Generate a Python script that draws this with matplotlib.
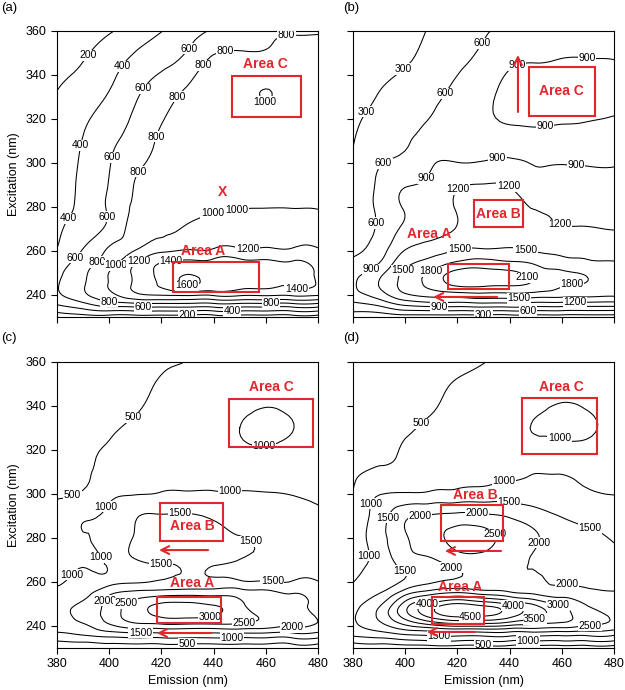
import numpy as np
import matplotlib
matplotlib.use('Agg')
import matplotlib.pyplot as plt
import matplotlib.tri as mtri
from matplotlib.patches import Rectangle

plt.rcParams['font.family'] = ['Liberation Sans', 'DejaVu Sans']

# grid the EEM intensities were read on (nm)
emission = [380, 390, 400, 410, 420, 430, 440, 450, 460, 470, 480]
excitation = [230, 233, 236, 240, 245, 250, 255, 260, 270, 280, 290, 300, 315, 330, 345, 360]

levels_a = [200, 400, 600, 800, 1000, 1200, 1400, 1600]
levels_b = [300, 600, 900, 1200, 1500, 1800, 2100]
levels_c = [500, 1000, 1500, 2000, 2500, 3000]
levels_d = [500, 1000, 1500, 2000, 2500, 3000, 3500, 4000, 4500]

# one row per excitation value, one column per emission value
eem_a = [
    [80, 110, 110, 110, 110, 110, 110, 110, 110, 110, 110],
    [250, 350, 420, 430, 430, 430, 430, 430, 430, 430, 430],
    [420, 560, 720, 770, 780, 780, 780, 780, 780, 780, 780],
    [560, 760, 950, 1150, 1210, 1230, 1230, 1230, 1230, 1230, 1220],
    [580, 780, 1010, 1230, 1430, 1620, 1560, 1470, 1440, 1420, 1390],
    [540, 760, 1005, 1240, 1450, 1580, 1520, 1470, 1450, 1430, 1380],
    [470, 690, 900, 1180, 1390, 1440, 1450, 1440, 1430, 1410, 1350],
    [410, 615, 830, 1010, 1170, 1220, 1240, 1250, 1250, 1240, 1230],
    [370, 500, 650, 880, 970, 1020, 1080, 1100, 1120, 1110, 1130],
    [330, 450, 630, 830, 880, 930, 960, 980, 990, 990, 980],
    [300, 440, 610, 810, 860, 880, 890, 895, 895, 890, 870],
    [280, 430, 590, 750, 850, 870, 870, 870, 860, 840, 810],
    [240, 390, 530, 660, 810, 850, 860, 860, 860, 840, 820],
    [210, 300, 420, 580, 720, 840, 870, 900, 1010, 880, 830],
    [150, 205, 320, 460, 560, 680, 850, 860, 860, 850, 830],
    [110, 150, 185, 290, 395, 510, 620, 690, 770, 790, 795],
]

eem_b = [
    [100, 100, 150, 150, 150, 150, 150, 150, 150, 150, 150],
    [350, 400, 590, 620, 620, 640, 640, 620, 620, 610, 605],
    [550, 700, 1000, 1100, 1100, 1150, 1150, 1100, 1100, 1090, 1080],
    [800, 1050, 1450, 1600, 1650, 1700, 1700, 1650, 1600, 1580, 1550],
    [860, 1210, 1600, 1900, 2180, 2180, 2150, 2050, 1840, 1790, 1720],
    [800, 1100, 1560, 1850, 2200, 2200, 2170, 1950, 1850, 1760, 1650],
    [640, 880, 1400, 1600, 1820, 1900, 1820, 1750, 1600, 1540, 1510],
    [560, 760, 1220, 1380, 1530, 1560, 1560, 1480, 1450, 1420, 1400],
    [500, 650, 950, 1050, 1220, 1230, 1240, 1280, 1230, 1220, 1190],
    [450, 660, 920, 1000, 1230, 1270, 1260, 1180, 1150, 1120, 1100],
    [390, 650, 880, 940, 1150, 1210, 1180, 1000, 1050, 1040, 1000],
    [330, 580, 680, 880, 905, 920, 940, 890, 890, 880, 880],
    [270, 420, 520, 680, 820, 850, 880, 890, 880, 870, 850],
    [220, 310, 400, 520, 700, 840, 960, 980, 960, 960, 950],
    [180, 250, 290, 400, 550, 700, 870, 905, 920, 920, 910],
    [150, 200, 240, 320, 420, 570, 650, 720, 780, 800, 850],
]

eem_c = [
    [200, 200, 200, 200, 200, 200, 200, 200, 200, 200, 200],
    [480, 550, 650, 700, 700, 700, 700, 700, 700, 700, 700],
    [900, 1020, 1200, 1300, 1300, 1300, 1300, 1300, 1300, 1300, 1300],
    [1100, 1400, 1900, 2250, 2300, 2300, 2300, 2300, 2200, 2050, 1900],
    [1300, 1700, 2200, 2800, 3100, 3150, 3050, 2700, 2400, 2150, 1900],
    [1250, 1600, 2150, 2700, 3050, 3080, 2950, 2600, 2300, 2100, 1800],
    [1080, 1300, 1900, 2150, 2250, 2300, 2300, 2250, 2150, 1980, 1750],
    [950, 1100, 1300, 1450, 1560, 1650, 1620, 1580, 1550, 1530, 1520],
    [800, 960, 1100, 1480, 1580, 1600, 1580, 1490, 1420, 1380, 1350],
    [700, 980, 1150, 1540, 1650, 1650, 1600, 1520, 1380, 1300, 1250],
    [600, 950, 1080, 1450, 1530, 1540, 1450, 1350, 1250, 1150, 1050],
    [470, 560, 900, 980, 1040, 1060, 1050, 1040, 1020, 990, 960],
    [380, 420, 600, 700, 800, 860, 900, 920, 930, 920, 900],
    [300, 360, 450, 560, 680, 800, 890, 1000, 1040, 1005, 920],
    [240, 290, 360, 440, 560, 680, 800, 900, 950, 930, 880],
    [200, 240, 290, 350, 470, 510, 680, 780, 850, 860, 850],
]

eem_d = [
    [200, 200, 200, 200, 200, 200, 200, 200, 200, 200, 200],
    [600, 700, 850, 950, 950, 950, 950, 950, 950, 950, 950],
    [1100, 1250, 1480, 1600, 1650, 1650, 1650, 1650, 1600, 1600, 1550],
    [1400, 1800, 2400, 2800, 3050, 3050, 2900, 2800, 2700, 2480, 2300],
    [1450, 2100, 3300, 4250, 4700, 4600, 4200, 3700, 3200, 2700, 2350],
    [1300, 1900, 3200, 4100, 4550, 4300, 3900, 3400, 2900, 2450, 2200],
    [1150, 1480, 2300, 2800, 3050, 2800, 2600, 2400, 2250, 2150, 2050],
    [990, 1300, 1600, 1950, 2100, 2100, 2100, 2050, 1980, 1850, 1700],
    [700, 1200, 1750, 1950, 2250, 2300, 2150, 1950, 1800, 1700, 1600],
    [650, 1300, 1950, 2300, 2650, 2650, 2300, 2050, 1750, 1600, 1450],
    [580, 1250, 1900, 2050, 2150, 2100, 1950, 1700, 1480, 1350, 1250],
    [510, 980, 1050, 1100, 1150, 1200, 1250, 1250, 1200, 1050, 990],
    [400, 450, 580, 750, 830, 850, 920, 950, 940, 930, 920],
    [320, 400, 450, 580, 700, 830, 950, 1010, 1040, 1020, 950],
    [260, 320, 370, 450, 560, 680, 800, 900, 960, 940, 900],
    [220, 260, 300, 370, 430, 490, 620, 720, 800, 820, 820],
]

# where the contour labels sit in the reference (emission, excitation)
labels_a = [(393, 347.7), (406.8, 342.3), (430.2, 352.3), (444.4, 350), (468, 357.3),
            (436.7, 343.6), (414.5, 332.7), (427, 329.5), (460, 329), (387, 308.6),
            (420.6, 311), (401, 302.7), (411.8, 295.5), (385.4, 274), (398.8, 275.5),
            (439.8, 276.4), (449, 277.7), (453, 264), (388, 256), (395.7, 254.5),
            (403, 253), (412.6, 252.7), (424, 252.7), (430, 245.5), (472, 244.5),
            (430, 231), (447, 233.2), (413, 234.8), (462, 236.3), (400, 238.5)]
labels_b = [(398.8, 343.6), (430, 354), (414.7, 332.3), (388, 321), (444, 341),
            (469.6, 347.7), (454, 311), (435, 304.5), (465.3, 297.7), (392.7, 297.7),
            (406.4, 294.5), (421, 287), (439.2, 288.6), (460.4, 275.5), (389, 272.7),
            (420, 265), (446, 260), (386.5, 252.7), (399, 251.4), (409.5, 251.4),
            (446.7, 248), (463.8, 245), (430, 231), (447, 233), (413, 234.7),
            (465, 236.5), (443.5, 238.7)]
labels_c = [(408.7, 335.5), (385.7, 300), (459, 330), (399, 294), (446.3, 302.3),
            (427, 291.4), (454.6, 279), (396.5, 271), (463, 266.4), (420, 265),
            (388, 261), (397.6, 251.8), (405.4, 251.8), (438.6, 246.4), (451.4, 244),
            (471, 245), (430, 231.4), (447, 234.3), (412, 236.5)]
labels_d = [(405.7, 332.7), (437.5, 307.7), (440, 298), (460, 330), (386.5, 295.8),
            (394, 289), (405.7, 290.5), (427.5, 293), (434.5, 281.8), (451.6, 277.7),
            (470, 281), (387, 272), (400, 265), (417, 265), (462, 261),
            (408.4, 250.4), (425, 245.9), (441, 247), (449.7, 242.5), (458, 246),
            (470.8, 243), (430, 231), (447, 233.4), (413, 235.6)]

RED = '#e3262b'

fig = plt.figure(figsize=(6.25, 6.9), dpi=100)

w, h = 0.4176, 0.4145
boxes = {
    'a': [0.0912, 0.5406, w, h],
    'b': [0.5648, 0.5406, w, h],
    'c': [0.0912, 0.0609, w, h],
    'd': [0.5648, 0.0609, w, h],
}
data = {'a': (eem_a, levels_a, labels_a), 'b': (eem_b, levels_b, labels_b),
        'c': (eem_c, levels_c, labels_c), 'd': (eem_d, levels_d, labels_d)}

EM, EX = np.meshgrid(emission, excitation)
tri = mtri.Triangulation(EM.ravel(), EX.ravel())
refiner = mtri.UniformTriRefiner(tri)


def area_box(ax, x0, y0, x1, y1):
    ax.add_patch(Rectangle((x0, y0), x1 - x0, y1 - y0, fill=False,
                           ec=RED, lw=1.5, zorder=5))


def area_text(ax, x, y, s):
    ax.text(x, y, s, color=RED, fontsize=10, fontweight='bold',
            ha='center', va='center', zorder=6)


def red_arrow(ax, x0, y0, x1, y1):
    ax.annotate('', xy=(x1, y1), xytext=(x0, y0), zorder=6,
                arrowprops=dict(arrowstyle='->', color=RED, lw=1.5,
                                mutation_scale=14, shrinkA=0, shrinkB=0))


axes = {}
for key in ['a', 'b', 'c', 'd']:
    ax = fig.add_axes(boxes[key])
    axes[key] = ax
    z, lev, lab = data[key]
    tri_f, z_f = refiner.refine_field(np.array(z, dtype=float).ravel(), subdiv=3)
    cs = ax.tricontour(tri_f, z_f, levels=lev, colors='black', linewidths=0.75)
    ax.set_xlim(380, 480)
    ax.set_ylim(230, 360)
    texts = ax.clabel(cs, fmt='%d', fontsize=7.5, inline=False, manual=lab)
    for t in texts:
        t.set_rotation(0)
        t.set_bbox(dict(boxstyle='square,pad=0.05', fc='white', ec='none'))
        t.set_zorder(4)
    ax.set_xticks(range(380, 481, 20))
    ax.set_yticks(range(240, 361, 20))
    ax.tick_params(direction='out', length=4, width=0.8, labelsize=9,
                   top=False, right=False)
    for s in ax.spines.values():
        s.set_linewidth(0.8)
    if key in ('a', 'b'):
        ax.set_xticklabels([])
    else:
        ax.set_xlabel('Emission (nm)', fontsize=9, labelpad=3)
    if key in ('b', 'd'):
        ax.set_yticklabels([])
    else:
        ax.set_ylabel('Excitation (nm)', fontsize=9, labelpad=4)

# panel (a)
ax = axes['a']
area_text(ax, 459.7, 345, 'Area C')
area_box(ax, 447, 321, 473.5, 339.5)
area_text(ax, 443.6, 286.8, 'X')
area_text(ax, 436, 260, 'Area A')
area_box(ax, 424.4, 241.4, 457.4, 255)

# panel (b)
ax = axes['b']
red_arrow(ax, 443.2, 323.2, 443.2, 349.1)
area_box(ax, 447.4, 321.4, 472.7, 343.6)
area_text(ax, 460, 332.7, 'Area C')
area_box(ax, 426.4, 270.9, 445.1, 283.2)
area_text(ax, 435.8, 276.8, 'Area B')
area_text(ax, 409, 267.7, 'Area A')
area_box(ax, 416.4, 242.7, 439.8, 254)
red_arrow(ax, 435.2, 239.1, 410.7, 239.1)

# panel (c)
ax = axes['c']
area_text(ax, 462.3, 348.6, 'Area C')
area_box(ax, 445.9, 321.4, 478, 343.2)
area_box(ax, 419.5, 278.6, 443.6, 295.9)
area_text(ax, 432, 285.5, 'Area B')
red_arrow(ax, 437.9, 274.5, 419.1, 274.5)
area_text(ax, 431.6, 259.5, 'Area A')
area_box(ax, 418.3, 241.4, 442.8, 253.2)
red_arrow(ax, 439, 236.8, 418.3, 236.8)

# panel (d)
ax = axes['d']
area_text(ax, 460, 348.6, 'Area C')
area_box(ax, 444.7, 318.2, 473.5, 343.6)
area_text(ax, 427, 299.5, 'Area B')
area_box(ax, 413.7, 278.6, 437.5, 295)
red_arrow(ax, 436.7, 274.1, 415.2, 274.1)
area_text(ax, 421, 257.7, 'Area A')
area_box(ax, 410.3, 240.9, 430.2, 253.2)
red_arrow(ax, 426.7, 237.3, 408.3, 237.3)

fig.text(0.002, 0.988, '(a)', fontsize=9.5, va='center')
fig.text(0.549, 0.988, '(b)', fontsize=9.5, va='center')
fig.text(0.002, 0.510, '(c)', fontsize=9.5, va='center')
fig.text(0.549, 0.510, '(d)', fontsize=9.5, va='center')

fig.savefig('out.png', dpi=100)
